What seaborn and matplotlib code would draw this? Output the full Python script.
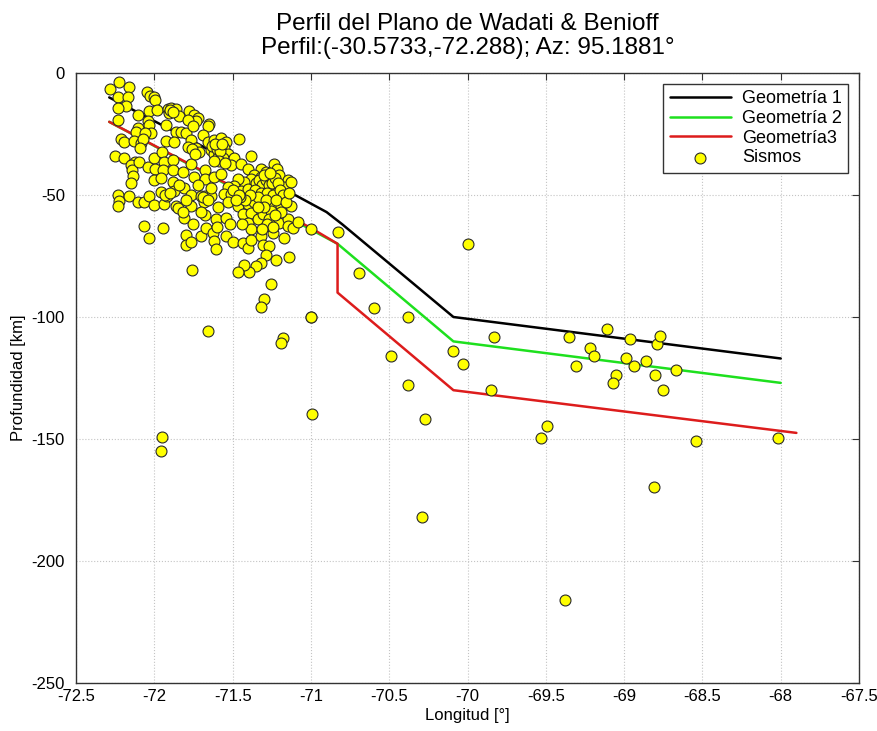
import numpy as np
import pandas as pd
import matplotlib
matplotlib.use("Agg")
import matplotlib.pyplot as plt
import seaborn as sns

# ---- data ----
geom1_lon = [-72.288, -71.13, -70.90, -70.80, -70.09, -68.00]
geom1_dep = [-10.0, -49.0, -57.0, -62.0, -100.0, -117.0]
geom2_lon = [-72.288, -70.83, -70.09, -68.00]
geom2_dep = [-20.0, -70.0, -110.0, -127.0]
geom3_lon = [-72.288, -71.00, -70.83, -70.83, -70.09, -67.90]
geom3_dep = [-20.0, -63.5, -70.0, -90.0, -130.0, -147.5]

cluster_lon = [
    -72.281, -72.223, -72.16, -72.23, -72.17, -72.047, -72.026, -72.0, -71.994,
    -72.18, -72.23, -72.234, -72.106, -72.032, -72.038, -71.98, -71.915, -71.894, -71.862,
    -71.904, -71.84, -71.777, -71.745, -71.723, -71.734, -71.787, -71.649, -71.66,
    -72.102, -72.117, -72.032, -72.02, -72.06, -71.926, -71.862, -71.83, -71.798, -71.755, -71.691,
    -72.213, -72.191, -72.128, -72.085, -72.074, -72.09, -71.926, -71.872, -71.766, -71.787,
    -71.734, -71.713, -71.660, -71.617, -71.574, -71.542, -71.462, -71.638, -71.617, -71.596,
    -71.553, -71.532, -71.564, -71.489, -71.383,
    -72.249, -72.196, -72.123, -72.149, -72.142, -72.134, -72.149, -72.096, -72.038, -72.0,
    -71.953, -71.936, -71.883, -71.994, -71.947, -71.883, -71.819, -71.766, -72.0, -71.957,
    -71.883, -71.809, -71.872, -71.745, -71.677, -71.677, -71.617, -71.574, -71.511, -71.447,
    -71.404, -71.319, -71.287, -71.234, -71.217, -71.202, -71.149, -71.362, -71.319, -71.277,
    -71.383, -71.426, -71.468, -71.489, -71.532, -71.553, -71.511, -71.447, -71.404, -71.340,
    -71.298, -71.234, -71.170, -71.128,
    -72.23, -72.228, -72.23, -72.16, -72.106, -72.068, -72.032, -72.0, -71.957, -71.936,
    -71.919, -71.862, -71.809, -71.851, -71.768, -71.766, -71.702, -71.677, -71.638, -71.681,
    -71.677, -71.596, -71.532, -71.606, -71.542, -71.468, -71.436, -71.404, -71.362, -71.319,
    -71.277, -71.234, -71.191, -71.128, -71.181, -71.383, -71.404, -71.383, -71.340, -71.309,
    -71.255, -71.266, -71.202, -71.149, -71.149, -71.117, -71.081,
    -72.068, -72.032, -71.947, -71.798, -71.798, -71.766, -71.702, -71.670, -71.628, -71.617,
    -71.606, -71.542, -71.50, -71.436, -71.404, -71.383, -71.319, -71.309, -71.266, -71.287,
    -71.245, -71.17, -71.225, -71.142, -71.319, -71.351, -71.394, -71.426, -71.468, -71.760,
    -71.255, -71.302, -71.319,
    -71.35, -71.33, -71.31, -71.29, -71.27, -71.25, -71.23, -71.21, -71.36, -71.32,
    -71.28, -71.24, -71.20, -71.18, -71.30, -71.26, -71.34, -71.29, -71.22, -71.39,
    -71.42, -71.45, -71.16, -71.14, -71.19, -71.23, -71.30, -71.34, -71.28, -71.24, -71.31,
    -71.63, -71.60, -71.58, -71.61, -71.57, -71.59, -71.62, -71.55,
    -71.76, -71.74, -71.90, -71.88, -71.50, -71.46, -71.48, -71.93, -71.90, -71.69, -71.66,
    -71.84, -71.80, -71.72, -71.64, -71.70, -71.82, -71.75, -71.60, -71.52, -71.44,
]
cluster_dep = [
    -6.6, -3.6, -5.7, -9.7, -9.7, -7.8, -9.4, -9.8, -11.2,
    -13.6, -14.3, -19.1, -17.0, -15.7, -19.8, -15.0, -14.7, -14.3, -14.7,
    -16.3, -17.7, -15.7, -17.0, -18.4, -19.8, -19.1, -20.9, -21.9,
    -22.6, -24.0, -21.2, -24.7, -24.7, -21.5, -24.0, -24.0, -24.7, -21.9, -25.3,
    -27.0, -28.1, -27.8, -28.8, -27.0, -30.6, -27.8, -28.1, -27.4, -30.2,
    -30.9, -32.3, -28.1, -27.4, -26.5, -28.1, -27.1, -31.6, -33.0, -34.3,
    -30.9, -33.0, -35.0, -35.0, -33.9,
    -34.1, -35.0, -36.4, -37.8, -39.9, -42.2, -45.0, -36.4, -38.5, -35.0,
    -32.5, -36.4, -35.7, -39.5, -39.9, -39.9, -40.6, -37.1, -44.0, -43.1,
    -44.7, -47.2, -48.2, -42.7, -39.9, -43.4, -42.7, -41.3, -37.8, -37.1,
    -39.2, -39.2, -40.6, -37.1, -39.2, -42.0, -44.0, -42.0, -42.7, -44.0,
    -43.4, -44.7, -43.4, -46.1, -46.8, -49.6, -49.6, -48.2, -47.5, -46.8,
    -47.5, -47.5, -46.8, -44.7,
    -50.0, -52.4, -54.4, -50.3, -53.0, -53.0, -50.3, -54.2, -48.9, -53.7,
    -50.3, -54.4, -59.3, -55.5, -50.0, -54.4, -50.3, -50.3, -50.3, -53.0,
    -58.3, -55.1, -53.0, -60.0, -59.3, -54.4, -57.9, -53.7, -53.0, -51.7,
    -53.0, -54.4, -54.4, -54.4, -51.0, -57.2, -61.4, -64.1, -60.0, -57.9,
    -56.5, -60.0, -61.4, -60.0, -62.7, -63.4, -61.1,
    -62.5, -67.6, -63.4, -66.2, -70.4, -69.4, -66.9, -63.4, -65.5, -69.0,
    -72.2, -66.9, -69.4, -69.7, -71.7, -68.3, -66.9, -70.4, -71.1, -74.5,
    -65.5, -67.6, -76.6, -75.5, -78.0, -79.1, -81.4, -78.7, -81.7, -80.7,
    -86.6, -92.5, -96.0,
    -45.0, -44.0, -46.0, -44.0, -46.0, -45.0, -43.0, -45.0, -48.0, -49.0,
    -49.0, -50.0, -48.0, -50.0, -42.0, -41.0, -51.0, -52.0, -52.0, -50.0,
    -52.0, -51.0, -53.0, -49.0, -57.0, -58.0, -55.0, -55.0, -62.0, -63.0, -64.0,
    -30.0, -31.0, -32.0, -29.0, -29.0, -36.0, -36.0, -37.0,
    -31.0, -33.0, -15.0, -16.0, -48.0, -50.0, -52.0, -50.0, -49.0, -51.0, -52.0,
    -46.0, -52.0, -46.0, -47.0, -57.0, -57.0, -62.0, -63.0, -62.0, -62.0,
]

deep_lon = [
    -71.0, -70.83, -70.0, -70.69, -70.60, -71.0, -71.0, -70.38, -70.49, -70.38,
    -70.99, -70.27, -70.093, -70.03, -69.83, -69.85, -69.35, -69.31, -69.22, -69.19,
    -69.11, -68.96, -68.99, -68.94, -68.86, -69.05, -69.07, -68.80, -68.79, -68.77,
    -68.75, -68.67, -69.49, -69.53, -68.54, -68.02, -68.81, -71.96, -71.95, -71.66,
    -71.18, -71.19, -70.29, -69.38,
]
deep_dep = [
    -63.9, -65.3, -70.2, -82.0, -96.2, -100.1, -100.1, -100.1, -115.8, -127.9,
    -139.8, -142.0, -114.0, -119.1, -108.0, -129.8, -108.0, -120.0, -112.9, -115.9,
    -105.0, -109.0, -116.9, -120.0, -118.0, -123.8, -127.0, -123.8, -110.9, -107.9,
    -130.0, -121.9, -144.7, -149.7, -150.7, -149.7, -169.6, -154.9, -149.0, -105.9,
    -108.8, -110.8, -182.1, -216.0,
]

x_ticks = [-72.5, -72, -71.5, -71, -70.5, -70, -69.5, -69, -68.5, -68, -67.5]
x_ticklabels = ["-72.5", "-72", "-71.5", "-71", "-70.5", "-70", "-69.5", "-69", "-68.5", "-68", "-67.5"]
y_ticks = [-250, -200, -150, -100, -50, 0]
y_ticklabels = ["-250", "-200", "-150", "-100", "-50", "0"]

# ---- plotting ----
sns.set_style("white")
plt.rcParams["font.family"] = ["Liberation Sans", "DejaVu Sans"]
plt.rcParams["text.color"] = "black"
plt.rcParams["axes.labelcolor"] = "black"
plt.rcParams["xtick.color"] = "black"
plt.rcParams["ytick.color"] = "black"

fig = plt.figure(figsize=(8.77, 7.31), dpi=100)
ax = fig.add_axes([0.0867, 0.0657, 0.8928, 0.8344])

lines = pd.concat([
    pd.DataFrame({"lon": geom1_lon, "dep": geom1_dep, "g": "Geometría 1"}),
    pd.DataFrame({"lon": geom2_lon, "dep": geom2_dep, "g": "Geometría 2"}),
    pd.DataFrame({"lon": geom3_lon, "dep": geom3_dep, "g": "Geometría3"}),
], ignore_index=True)

pts = pd.DataFrame({"lon": cluster_lon + deep_lon, "dep": cluster_dep + deep_dep})

sns.lineplot(data=lines, x="lon", y="dep", hue="g", sort=False, estimator=None,
             palette={"Geometría 1": "#000000", "Geometría 2": "#1EE01E", "Geometría3": "#DD1C1C"},
             linewidth=1.8, ax=ax, zorder=2)
sns.scatterplot(data=pts, x="lon", y="dep", color="#FFFF00", edgecolor="#2a2a2a",
                linewidth=0.8, s=62, ax=ax, zorder=3, label="Sismos")

ax.set_xlim(-72.5, -67.5)
ax.set_ylim(-250, 0)
ax.set_xticks(x_ticks)
ax.set_xticklabels(x_ticklabels)
ax.set_yticks(y_ticks)
ax.set_yticklabels(y_ticklabels)
ax.tick_params(direction="in", length=5, top=True, right=True, labelsize=12,
               color="#333333", labelcolor="black")
ax.tick_params(axis="y", pad=8)
ax.tick_params(axis="x", pad=4)
ax.grid(True, linestyle=":", color="#c4c4c4", linewidth=0.8)
for sp in ax.spines.values():
    sp.set_color("#333333")
    sp.set_linewidth(1.0)

ax.set_xlabel("Longitud [°]", fontsize=12, labelpad=3, color="black")
ax.set_ylabel("Profundidad [km]", fontsize=12, labelpad=4, color="black")
ax.set_title("Perfil del Plano de Wadati & Benioff\nPerfil:(-30.5733,-72.288); Az: 95.1881°",
             fontsize=17.5, pad=14, linespacing=1.1, color="black")

h, l = ax.get_legend_handles_labels()
leg = ax.legend(h, l, loc="upper right", fontsize=13, frameon=True, fancybox=False,
                edgecolor="#333333", framealpha=1, borderaxespad=0.6, handlelength=3.4,
                labelspacing=0.15, borderpad=0.35, handletextpad=0.6)
leg.get_frame().set_linewidth(1.0)
for t in leg.get_texts():
    t.set_color("black")

fig.savefig("out.png", dpi=100)
